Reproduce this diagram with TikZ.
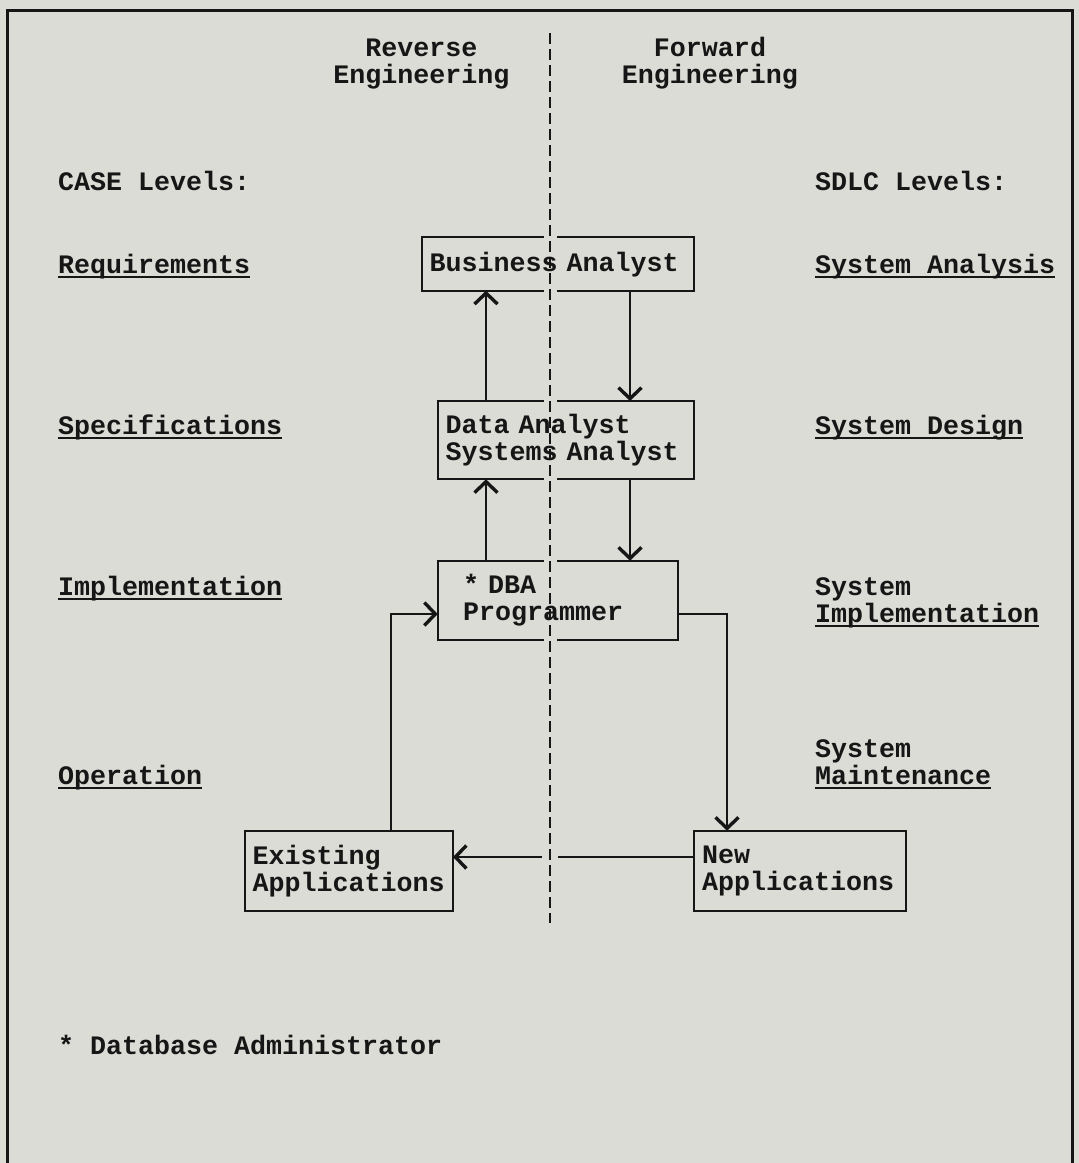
\documentclass[tikz,border=0pt]{standalone}
\usepackage{fontspec}
\setmainfont{Liberation Mono}
\usetikzlibrary{arrows.meta}
\pgfdeclarelayer{under}
\pgfsetlayers{under,main}
\definecolor{paper}{RGB}{220,220,214}
\definecolor{ink}{RGB}{22,22,22}
\newcommand\myul[1]{\setbox0\hbox{#1}\rlap{\rule[-5.2pt]{\wd0}{2.2pt}}\box0}
\begin{document}
\begin{tikzpicture}[x=1pt,y=-1pt,
  every node/.style={font=\fontsize{26.67}{27}\selectfont\bfseries, text=ink, inner sep=0pt, outer sep=0pt},
  lbl/.style={anchor=base west},
  head/.style={anchor=base, align=center},
  boxnode/.style={anchor=north west, align=left, inner ysep=0pt},
  boxline/.style={draw=ink, line width=2pt},
  conn/.style={draw=ink, line width=2pt},
  arr/.style={conn, -{Straight Barb[length=11pt,width=23pt,line width=3.4pt]}},
  halo/.style={draw=paper, line width=13pt},
  dashline/.style={draw=ink, line width=2pt, dash pattern=on 11pt off 5pt},
  frame/.style={draw=ink, line width=3pt}]
\useasboundingbox (0,0) rectangle (1079,1163);

% headings
\node[head] (rev1) at (421.5,56) {Reverse};
\node[head] (rev2) at (421.5,83) {Engineering};
\node[head] (fwd1) at (710,56) {Forward};
\node[head] (fwd2) at (710,83) {Engineering};

\node[lbl] (case) at (58,190) {CASE Levels:};
\node[lbl] (sdlc) at (815,190) {SDLC Levels:};

\node[lbl] (req) at (58,273) {\myul{Requirements}};
\node[lbl] (spec) at (58,434) {\myul{Specifications}};
\node[lbl] (impl) at (58,595) {\myul{Implementation}};
\node[lbl] (oper) at (58,784) {\myul{Operation}};

\node[lbl] (sana) at (815,273) {\myul{System Analysis}};
\node[lbl] (sdes) at (815,434) {\myul{System Design}};
\node[lbl] (simp1) at (815,595) {System};
\node[lbl] (simp2) at (815,622) {\myul{Implementation}};
\node[lbl] (smai1) at (815,757) {System};
\node[lbl] (smai2) at (815,784) {\myul{Maintenance}};

\node[lbl] (foot) at (58,1054) {* Database Administrator};

% boxes
\node[boxnode, inner xsep=8pt, text width=256.3pt, minimum height=54pt, text depth=3pt] (ba) at (421.7,236.7) {Business Analyst};
\node[boxnode, inner xsep=8pt, text width=240.3pt, minimum height=78.3pt] (da) at (437.7,401) {Data Analyst\\Systems Analyst};
\node[boxnode, inner xsep=25.5pt, text width=189.3pt, minimum height=79.3pt] (dba) at (437.7,560.7) {* DBA\\Programmer};
\node[boxnode, inner xsep=8pt, text width=192.3pt, minimum height=80.3pt] (ex) at (244.7,830.7) {Existing\\Applications};
\node[boxnode, inner xsep=8pt, text width=195.5pt, minimum height=80.3pt] (nw) at (694,830.7) {New\\Applications};

\coordinate (xl) at (486,0);
\coordinate (xr) at (630,0);
\coordinate (k1) at (390.5,614);
\coordinate (k2) at (727,614);
\coordinate (k3) at (0,857);
\coordinate (dt) at (550,33);
\coordinate (db) at (550,923);

\begin{pgfonlayer}{under}
  \fill[paper] (0,0) rectangle (1079,1163);
  \draw[frame] (7,1170) -- (7,10) -- (1072,10) -- (1072,1170);
  \foreach \n in {ba,da,dba,ex,nw}
    \draw[boxline] (\n.north west) rectangle (\n.south east);
  \draw[arr] (da.north -| xl) -- (ba.south -| xl);
  \draw[arr] (ba.south -| xr) -- (da.north -| xr);
  \draw[arr] (dba.north -| xl) -- (da.south -| xl);
  \draw[arr] (da.south -| xr) -- (dba.north -| xr);
  \draw[arr] (ex.north -| k1) -- (k1) -- (dba.west |- k1);
  \draw[arr] (dba.east |- k2) -- (k2) -- (nw.north -| k2);
  \draw[arr] (nw.west |- k3) -- (ex.east |- k3);
  \foreach \n/\a in {ba/north,ba/south,da/north,da/south,dba/north,dba/south}
    \draw[halo] ([yshift=3pt]\n.\a -| dt) -- ([yshift=-3pt]\n.\a -| dt);
  \draw[halo, line width=16pt] ([yshift=3pt]k3 -| dt) -- ([yshift=-3pt]k3 -| dt);
  \draw[dashline] (dt) -- (db);
\end{pgfonlayer}
\end{tikzpicture}
\end{document}
